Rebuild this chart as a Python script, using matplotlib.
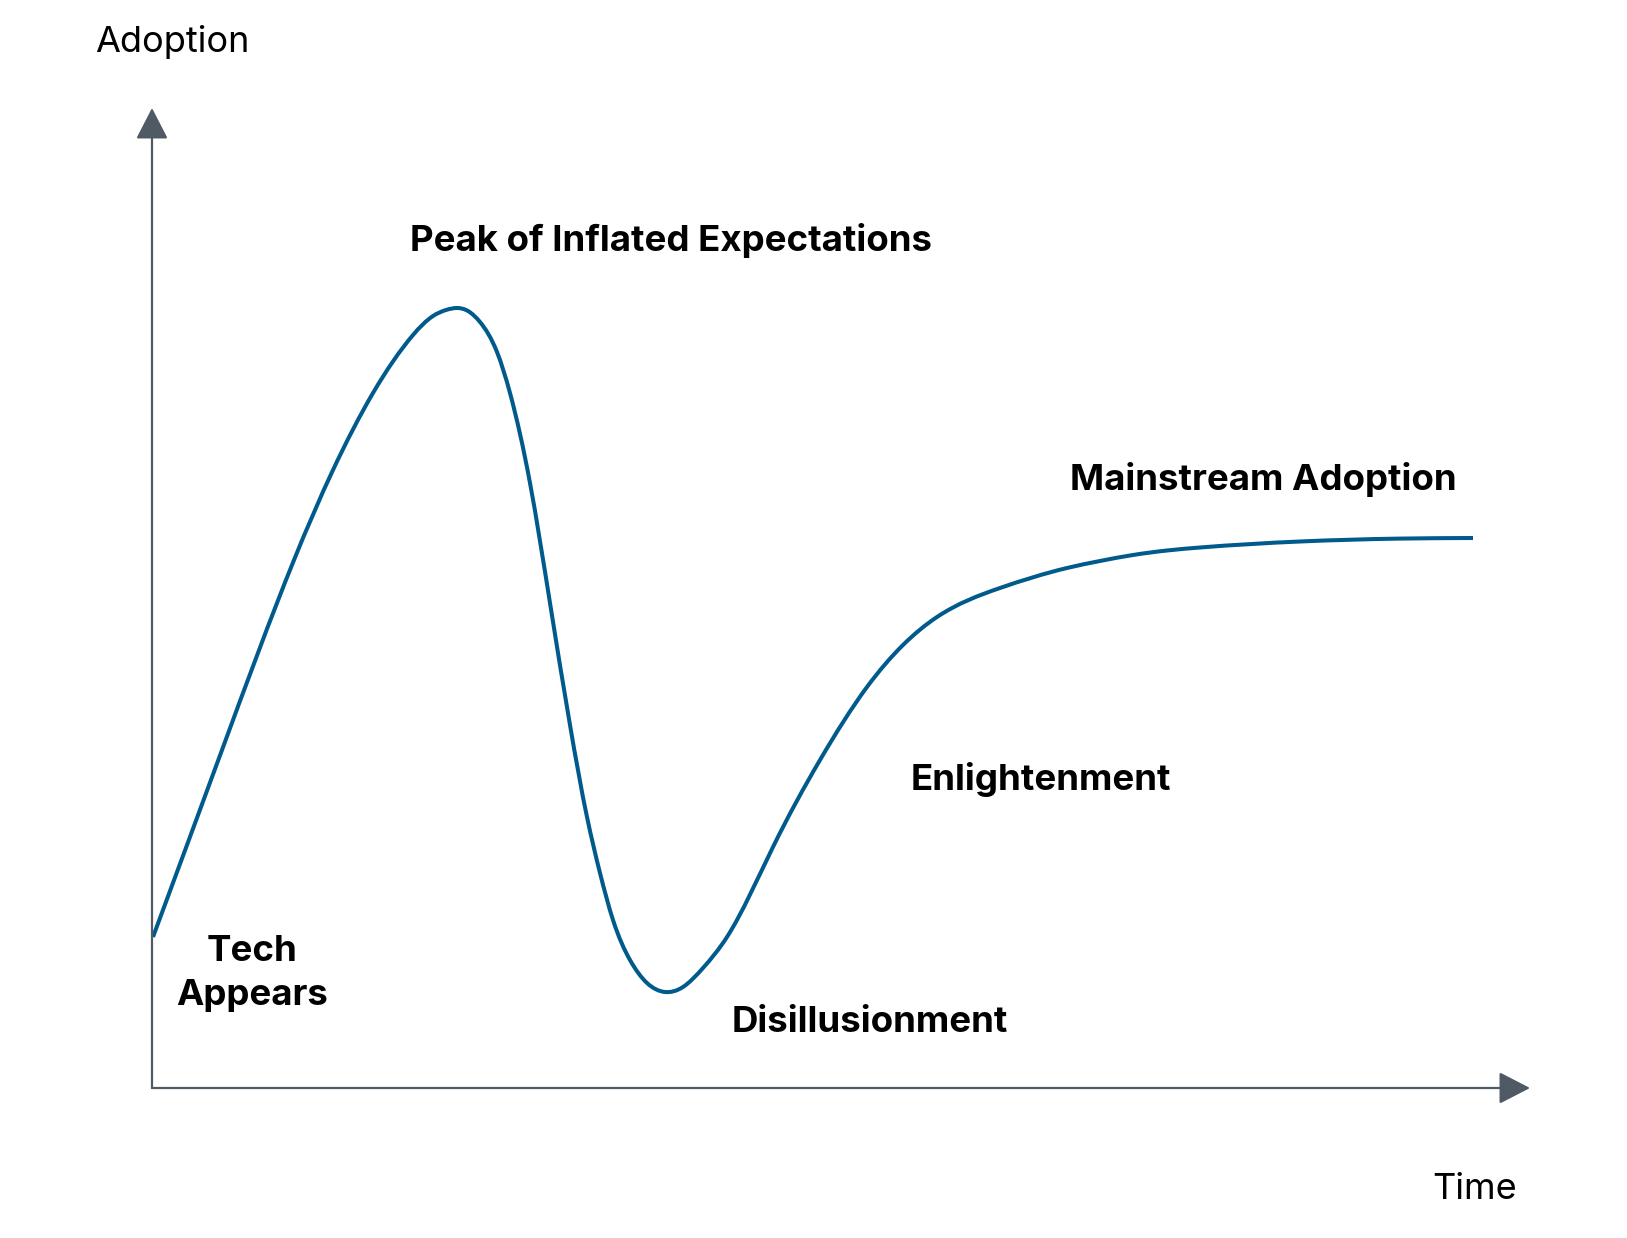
import matplotlib
matplotlib.use("Agg")
import numpy as np
import matplotlib.pyplot as plt
from matplotlib.path import Path
from matplotlib.patches import PathPatch

# ---- data (time vs. adoption, arbitrary units) ----
time = [1, 70, 142, 181, 221, 261, 281, 294, 305, 316,
        328, 345, 358, 378, 398, 418, 435, 448, 461, 478,
        495, 513, 531, 551, 575, 621, 668, 715, 751, 785,
        848, 915, 948, 981, 1015, 1048, 1148, 1248, 1321]
adoption = [151, 338, 528, 618, 695, 753, 772, 778, 780, 777,
            766, 736, 695, 605, 485, 363, 271, 215, 168, 128,
            105, 96, 101, 120, 151, 241, 328, 401, 443, 471,
            500, 520, 527, 533, 537.5, 540.5, 546.5, 549.4, 550]

phase_labels = ["Peak of Inflated Expectations", "Mainstream Adoption",
                "Enlightenment", "Disillusionment", "Tech\nAppears"]
phase_pos = [(519, 837), (1111, 598), (889, 298), (718, 56), (100, 83)]

x_label = "Time"
y_label = "Adoption"

# ---- figure ----
W, H, DPI = 1627, 1238, 100
fig = plt.figure(figsize=(W / DPI, H / DPI), dpi=DPI, facecolor="white")
ax = fig.add_axes([0, 0, 1, 1])
ox, oy = 152, 1088  # origin location in pixels
ax.set_xlim(-ox, W - ox)
ax.set_ylim(oy - H, oy)
ax.axis("off")

axis_color = "#4f5a65"
x_end = 1378
y_end = 980
arrow = dict(arrowstyle="-|>,head_length=0.97,head_width=0.5",
             mutation_scale=20, color=axis_color, lw=1.6,
             shrinkA=0, shrinkB=0)
ax.annotate("", xy=(0, y_end), xytext=(0, 0), arrowprops=arrow)
ax.annotate("", xy=(x_end, 0), xytext=(0, 0), arrowprops=arrow)


# natural cubic spline through the read points, drawn as a Bezier path
def spline_slopes(x, y):
    x = np.asarray(x, float)
    y = np.asarray(y, float)
    n = len(x)
    h = np.diff(x)
    A = np.zeros((n, n))
    b = np.zeros(n)
    A[0, 0] = A[-1, -1] = 1.0
    for i in range(1, n - 1):
        A[i, i - 1] = h[i - 1]
        A[i, i] = 2 * (h[i - 1] + h[i])
        A[i, i + 1] = h[i]
        b[i] = 6 * ((y[i + 1] - y[i]) / h[i] - (y[i] - y[i - 1]) / h[i - 1])
    M = np.linalg.solve(A, b)
    m = np.zeros(n)
    for i in range(n - 1):
        m[i] = (y[i + 1] - y[i]) / h[i] - h[i] * (2 * M[i] + M[i + 1]) / 6
    m[-1] = (y[-1] - y[-2]) / h[-1] + h[-1] * (M[-2] + 2 * M[-1]) / 6
    return m


xs = np.asarray(time, float)
ys = np.asarray(adoption, float)
ms = spline_slopes(xs, ys)
verts = [(xs[0], ys[0])]
codes = [Path.MOVETO]
for i in range(len(xs) - 1):
    h = xs[i + 1] - xs[i]
    verts += [(xs[i] + h / 3, ys[i] + ms[i] * h / 3),
              (xs[i + 1] - h / 3, ys[i + 1] - ms[i + 1] * h / 3),
              (xs[i + 1], ys[i + 1])]
    codes += [Path.CURVE4] * 3
ax.add_patch(PathPatch(Path(verts, codes), fill=False, edgecolor="#005a8c",
                       lw=2.9, joinstyle="round", capstyle="butt"))

for lab, (tx, ty) in zip(phase_labels, phase_pos):
    ax.text(tx, ty, lab, family="Inter", fontsize=26.4, fontweight="bold",
            ha="center", va="baseline", multialignment="center",
            linespacing=1.42, color="black")

ax.text(-57, 1036, y_label, family="Inter", fontsize=26, ha="left",
        va="baseline", color="black")
ax.text(1280, -111, x_label, family="Inter", fontsize=26, ha="left",
        va="baseline", color="black")

fig.savefig("out.png", dpi=DPI, facecolor="white")
